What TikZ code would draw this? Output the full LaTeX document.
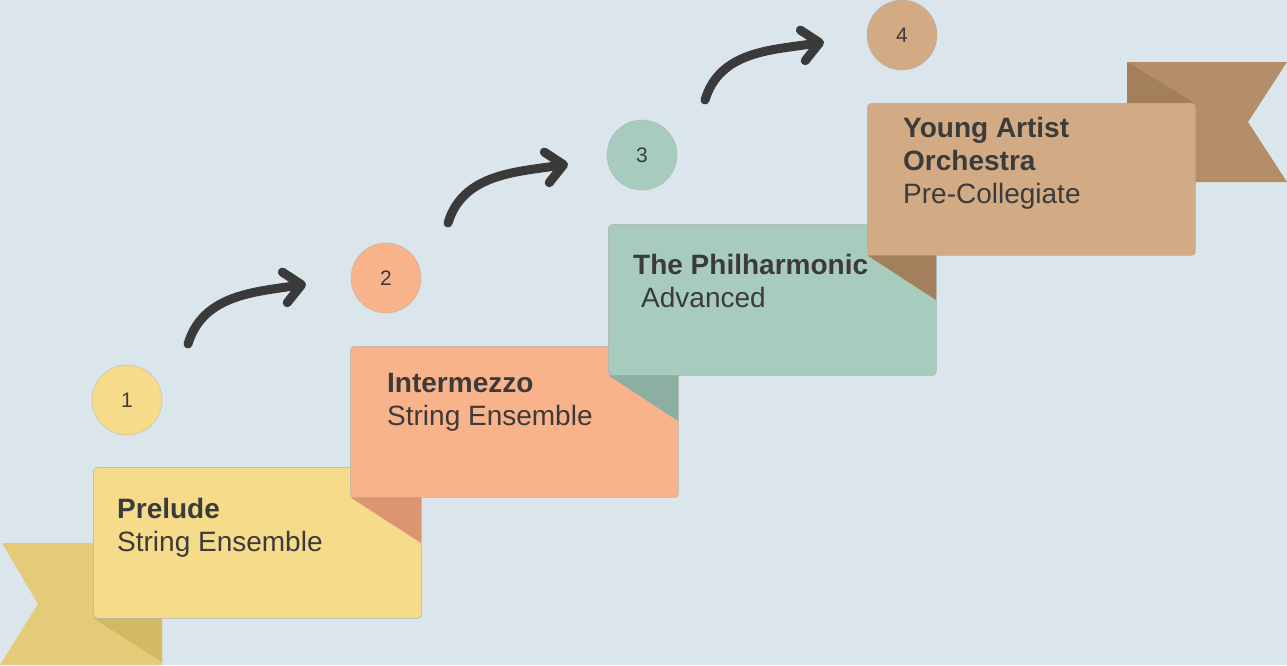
\documentclass[tikz,border=0pt]{standalone}
\usepackage{fontspec}
\setmainfont{Liberation Sans}
\usetikzlibrary{arrows.meta,calc}
\definecolor{bg}{HTML}{DAE6EC}
\definecolor{yel}{HTML}{F6DC8A}
\definecolor{yelrib}{HTML}{E3CB78}
\definecolor{yeldark}{HTML}{D2B964}
\definecolor{ora}{HTML}{F9B38A}
\definecolor{oradark}{HTML}{DB9570}
\definecolor{tea}{HTML}{A7CBBD}
\definecolor{teadark}{HTML}{8DAFA2}
\definecolor{tan}{HTML}{D2AB84}
\definecolor{tanrib}{HTML}{B38E69}
\definecolor{tandark}{HTML}{A47F5C}
\definecolor{ink}{HTML}{3B3B3B}
\definecolor{arr}{HTML}{3A3A3A}
\definecolor{edge}{HTML}{A9AFB0}
\tikzset{
  card/.style={anchor=north west, inner sep=0pt, minimum width=328pt, minimum height=151pt, rounded corners=4pt, draw=edge, draw opacity=0.6, line width=0.8pt},
  num/.style={circle, inner sep=0pt, minimum size=70pt, text=ink, font=\fontsize{21}{24}\selectfont, draw=edge, draw opacity=0.5, line width=0.7pt},
  ttl/.style={anchor=base west, inner sep=0pt, text=ink, font=\fontsize{28}{34}\selectfont\bfseries},
  sub/.style={anchor=base west, inner sep=0pt, text=ink, font=\fontsize{28}{34}\selectfont},
  curvy/.style={draw=arr, line width=9pt, line cap=round, -{Straight Barb[length=17pt, width=31pt, round]}}
}
\begin{document}
\begin{tikzpicture}[x=1pt,y=-1pt]
\fill[bg] (0,0) rectangle (1287,665);
\useasboundingbox (0,0) rectangle (1287,665);
% ribbon 1 (left)
\fill[yelrib] (2,543) -- (162,543) -- (162,665) -- (0,665) -- (38,604) -- cycle;
\fill[yeldark] (93,618) -- (162,618) -- (162,662) -- cycle;
\node[card, fill=yel] (b1) at (93,467) {};
% card 2
\node[card, fill=ora] (b2) at (350,346) {};
\fill[oradark] (350.4,497.4) -- (421,497.4) -- (421,543) -- cycle;
% card 3
\node[card, fill=tea] (b3) at (608,224) {};
\fill[teadark] (608.4,375.4) -- (678,375.4) -- (678,421) -- cycle;
% ribbon 4 (right)
\fill[tanrib] (1127,62) -- (1287,62) -- (1248,122) -- (1287,182) -- (1127,182) -- cycle;
\fill[tandark] (1127,62) -- (1195,103) -- (1127,103) -- cycle;
\node[card, fill=tan, minimum height=152pt] (b4) at (867,103) {};
\fill[tandark] (867.4,255.4) -- (936,255.4) -- (936,300) -- cycle;
% texts
\node[ttl] (t1) at (117,518) {Prelude};
\node[sub] (s1) at (117,551) {String Ensemble};
\node[ttl] (t2) at (387,392) {Intermezzo};
\node[sub] (s2) at (387,425) {String Ensemble};
\node[ttl] (t3) at (633,274) {The Philharmonic};
\node[sub] (s3) at (641,307) {Advanced};
\node[ttl] (t4a) at (903,137) {Young Artist};
\node[ttl] (t4b) at (903,170) {Orchestra};
\node[sub] (s4) at (903,203) {Pre-Collegiate};
% circles
\node[num, fill=yel] (c1) at (127,400) {1};
\node[num, fill=ora] (c2) at (386,278) {2};
\node[num, fill=tea] (c3) at (642,155) {3};
\node[num, fill=tan] (c4) at (902,35) {4};
% arrows
\coordinate (a1s) at (188,344); \coordinate (a1e) at (306,284);
\coordinate (a2s) at (448,223); \coordinate (a2e) at (568,164);
\coordinate (a3s) at (705,100); \coordinate (a3e) at (824,42);
\draw[curvy] (a1s) .. controls ($(a1s)+(15,-50)$) and ($(a1e)+(-50,8)$) .. (a1e);
\draw[curvy] (a2s) .. controls ($(a2s)+(15,-50)$) and ($(a2e)+(-50,8)$) .. (a2e);
\draw[curvy] (a3s) .. controls ($(a3s)+(15,-50)$) and ($(a3e)+(-50,8)$) .. (a3e);
\end{tikzpicture}
\end{document}
